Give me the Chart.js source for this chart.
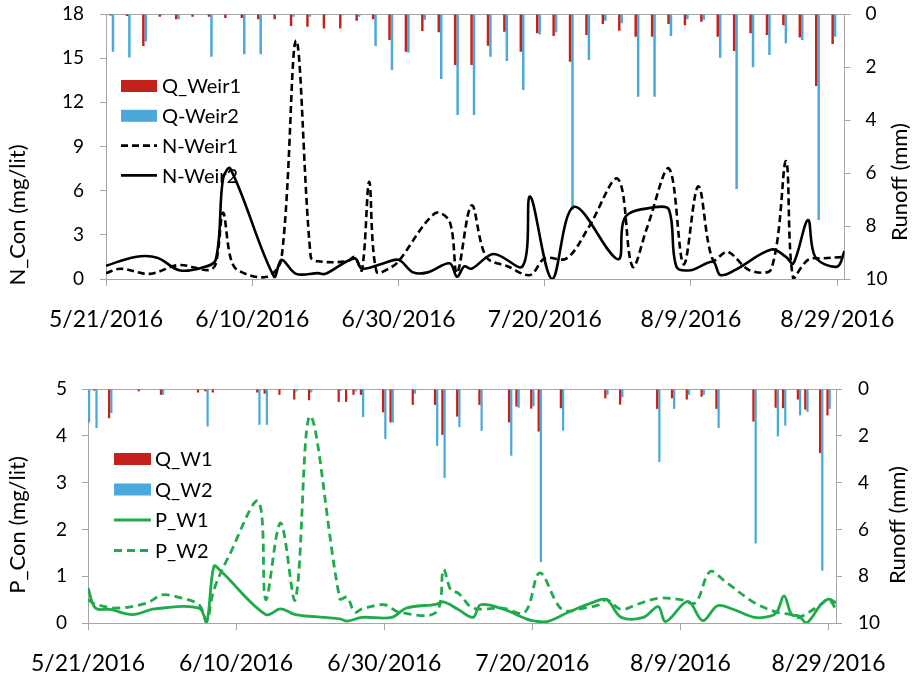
<!DOCTYPE html>
<html>
<head>
<meta charset="utf-8">
<script src="https://cdn.jsdelivr.net/npm/chart.js@4.4.1/dist/chart.umd.min.js"></script>
<style>
  html, body { margin: 0; padding: 0; background: #fff; }
  #wrap { position: relative; width: 915px; height: 683px; }
  canvas { position: absolute; left: 0; }
  #topChart { top: 0; }
  #botChart { top: 345px; }
</style>
</head>
<body>
<div id="wrap">
  <canvas id="topChart" width="915" height="345"></canvas>
  <canvas id="botChart" width="915" height="338"></canvas>
</div>
<script>
// ---------- data ----------
// x positions are days after 5/21/2016
const START = new Date(2016, 4, 21);
const X_END = 101;                         // 8/30/2016
const tickDays = [0, 20, 40, 60, 80, 100]; // 5/21 ... 8/29

// top panel: runoff events, one slot each (secondary category axis)
const qWeir1 = [0.06, 0.08, 1.21, 0.10, 0.20, 0.10, 0.10, 0.15, 0.15, 0.20, 0.20, 0.45, 0.48, 0.55, 0.55,
  0.25, 0.20, 0.98, 1.42, 0.64, 0.69, 1.92, 1.92, 1.20, 0.67, 1.42, 0.73, 0.83, 1.80, 0.79,
  0.38, 0.63, 0.86, 0.86, 0.38, 0.42, 0.29, 0.86, 1.40, 0.73, 0.79, 0.42, 0.89, 2.72, 1.13];
const qWeir2 = [1.42, 1.64, 1.04, 0.05, 0.20, 0.02, 1.61, 0.02, 1.52, 1.52, 0.02, 0.10, 0.10, 0.05, 0.05,
  0.10, 1.21, 2.11, 1.45, 0.22, 2.45, 3.81, 3.81, 1.61, 1.77, 2.87, 0.77, 0.69, 7.40, 1.74,
  0.25, 0.35, 3.12, 3.12, 0.83, 0.20, 0.22, 1.65, 6.60, 2.01, 1.55, 1.10, 0.98, 7.77, 0.86];
const qSlotsTop = qWeir1.map((_, i) => String(i + 1));

// N concentration (mg/lit)
const nW1Day = [0, 2, 6, 10, 14, 15, 16, 17, 18, 22, 24, 26, 28, 29, 33, 34, 35, 36, 37, 39,
  40, 45, 47, 48, 50, 52, 55, 58, 60, 63, 66, 70, 72, 74, 77, 79, 81, 83, 85, 88, 91, 93, 94, 96, 98, 101];
const nWeir1 = [0.4, 0.7, 0.35, 0.95, 0.6, 1.0, 4.5, 1.5, 0.6, 0.15, 1.4, 16.2, 1.5, 1.2, 1.2, 1.5, 0.6, 6.6, 0.5, 0.8,
  1.2, 4.46, 3.9, 0.4, 5.0, 1.5, 0.85, 0.27, 1.4, 1.4, 3.5, 6.8, 0.85, 3.5, 7.5, 1.0, 6.3, 1.3, 1.85, 0.6,
  0.7, 8.0, 0.0, 1.3, 1.4, 1.5];
const nW2Day = [0, 4, 7, 10, 13, 15, 16, 17, 23, 24, 26, 29, 30, 34, 35, 38, 40, 42, 44, 47,
  48, 49, 50, 53, 57, 58, 61, 64, 70, 71, 75, 77, 78, 80, 83, 84, 86, 91, 93, 94, 96, 97, 100, 101];
const nWeir2 = [0.9, 1.5, 1.45, 0.6, 0.75, 1.3, 6.8, 7.5, 0.15, 1.3, 0.35, 0.4, 0.35, 1.4, 0.7, 1.07, 1.3, 0.45, 0.45, 1.07,
  0.15, 0.85, 0.7, 1.7, 0.88, 5.6, 0.0, 4.9, 1.34, 4.2, 4.87, 4.7, 0.85, 0.6, 1.17, 0.27, 0.6, 2.0, 1.5, 1.05,
  4.0, 1.5, 0.84, 1.9];

// bottom panel: runoff events on their dates
const qDay = [0, 1, 3, 7, 10, 15, 16, 17, 23, 24, 26, 28, 30, 34, 35, 36, 37, 40, 41, 44, 47, 48,
  50, 53, 57, 58, 60, 61, 64, 70, 72, 77, 79, 81, 83, 85, 90, 93, 94, 96, 97, 99, 100];
const qW1 = [0.05, 0.07, 1.25, 0.10, 0.25, 0.15, 0.10, 0.15, 0.15, 0.20, 0.25, 0.45, 0.48, 0.55, 0.55, 0.25, 0.25, 1.00,
  1.43, 0.68, 0.68, 1.96, 1.18, 0.68, 1.43, 0.75, 0.84, 1.82, 0.82, 0.40, 0.67, 0.85, 0.40, 0.45, 0.33, 0.85,
  1.39, 0.80, 0.82, 0.45, 0.88, 2.74, 1.13];
const qW2 = [1.43, 1.67, 1.03, 0.02, 0.25, 0.02, 1.60, 0.02, 1.53, 1.53, 0.02, 0.10, 0.15, 0.08, 0.05, 0.10, 1.20, 2.14,
  1.43, 0.20, 2.43, 3.80, 1.63, 1.79, 2.85, 0.80, 0.74, 7.40, 1.78, 0.25, 0.35, 3.12, 0.85, 0.25, 0.25, 1.67,
  6.60, 2.03, 1.57, 1.13, 0.98, 7.77, 0.85];

// P concentration (mg/lit)
const pW1Day = [0, 1, 3, 6, 9, 15, 16, 17, 18, 24, 26, 28, 32, 34, 35, 37, 41, 43, 47, 48,
  50, 52, 53, 56, 59, 60, 62, 65, 68, 70, 72, 75, 77, 78, 81, 83, 85, 87, 90, 92, 93, 94, 95, 96, 97, 99, 100, 101];
const pW1 = [0.75, 0.32, 0.29, 0.18, 0.3, 0.32, 0.0, 1.21, 1.1, 0.18, 0.3, 0.18, 0.12, 0.09, 0.04, 0.12, 0.12, 0.32, 0.4, 0.45,
  0.29, 0.12, 0.39, 0.3, 0.1, 0.05, 0.03, 0.24, 0.43, 0.5, 0.12, 0.12, 0.35, 0.03, 0.46, 0.05, 0.37, 0.3, 0.12, 0.14,
  0.23, 0.58, 0.18, 0.15, 0.0, 0.4, 0.51, 0.43];
const pW2Day = [0, 1, 4, 8, 10, 12, 15, 16, 17, 19, 23, 24, 26, 28, 30, 34, 35, 36, 37, 40,
  42, 47, 48, 49, 50, 52, 56, 59, 61, 64, 67, 69, 70, 72, 74, 77, 80, 82, 84, 86, 90, 93, 95, 96, 99, 100, 101];
const pW2 = [0.5, 0.4, 0.32, 0.43, 0.6, 0.56, 0.39, 0.04, 0.71, 1.42, 2.6, 0.5, 2.14, 0.5, 4.42, 0.52, 0.55, 0.23, 0.3, 0.39,
  0.23, 0.23, 1.14, 0.7, 0.64, 0.32, 0.32, 0.23, 1.07, 0.29, 0.32, 0.39, 0.5, 0.29, 0.39, 0.53, 0.5, 0.43, 1.1, 0.89,
  0.43, 0.23, 0.18, 0.12, 0.4, 0.5, 0.3];

// ---------- style ----------
const FONT = "Lato, 'Open Sans', sans-serif";
const RED = "#c3221c";
const BLUE = "#4aa8db";
const GREEN = "#1fab4a";
const AXIS = "#a6a6a6";

Chart.defaults.font.family = FONT;
Chart.defaults.color = "#000";

// ---------- helpers ----------
const pairs = (xs, ys) => xs.map((x, i) => ({ x, y: ys[i] }));

function dateLabel(v) {
  const d = new Date(START.getFullYear(), START.getMonth(), START.getDate() + v);
  return (d.getMonth() + 1) + "/" + d.getDate() + "/" + d.getFullYear();
}

function dateAxis(height) {
  return {
    type: "linear", position: "bottom", min: 0, max: X_END, offset: false,
    afterBuildTicks: (s) => { s.ticks = tickDays.map((v) => ({ value: v })); },
    afterFit: (s) => { s.height = height; },
    grid: { offset: false, drawOnChartArea: false, tickLength: 7, color: AXIS },
    border: { color: AXIS },
    ticks: { autoSkip: false, maxRotation: 0, padding: 20, color: "#000",
      font: { size: 23 }, callback: dateLabel },
  };
}

// fixed width, and no label overhang padding (plot edges are set by the x axes)
function fixWidth(width) {
  return (s) => { s.width = width; s.paddingTop = 0; s.paddingBottom = 0; };
}

function conAxis(max, step, width, pad) {
  return {
    position: "left", min: 0, max,
    afterFit: fixWidth(width),
    grid: { drawOnChartArea: false, tickLength: 6, color: AXIS },
    border: { color: AXIS },
    ticks: { stepSize: step, padding: pad, color: "#000", font: { size: 19 } },
  };
}

function runoffAxis(width, pad) {
  return {
    position: "right", min: 0, max: 10, reverse: true,
    afterFit: fixWidth(width),
    grid: { drawOnChartArea: false, tickLength: 6, color: AXIS },
    border: { color: AXIS },
    ticks: { stepSize: 2, padding: pad, color: "#000", font: { size: 19 } },
  };
}

// legend drawn inside the plot, under the lines
const inlineLegend = {
  id: "inlineLegend",
  beforeDatasetsDraw(chart, args, o) {
    const ctx = chart.ctx;
    ctx.save();
    ctx.font = o.fontSize + "px " + FONT;
    ctx.textBaseline = "middle";
    chart.data.datasets.forEach((ds, i) => {
      const y = o.y + i * o.gap;
      if (ds.type === "line") {
        ctx.strokeStyle = ds.borderColor;
        ctx.lineWidth = ds.borderWidth;
        ctx.setLineDash(ds.borderDash || []);
        ctx.beginPath();
        ctx.moveTo(o.x, y);
        ctx.lineTo(o.x + o.swatch, y);
        ctx.stroke();
        ctx.setLineDash([]);
      } else {
        ctx.fillStyle = ds.backgroundColor;
        ctx.fillRect(o.x, y - o.boxH / 2, o.swatch, o.boxH);
      }
      ctx.fillStyle = "#000";
      ctx.fillText(ds.label, o.textX, y + 1);
    });
    ctx.restore();
  },
};

// vertical axis titles, both reading bottom-to-top
const sideTitles = {
  id: "sideTitles",
  afterDraw(chart, args, o) {
    const ctx = chart.ctx;
    ctx.save();
    ctx.font = o.fontSize + "px " + FONT;
    ctx.fillStyle = "#000";
    ctx.textAlign = "center";
    ctx.textBaseline = "middle";
    o.items.forEach((t) => {
      ctx.save();
      ctx.translate(t.x, t.y);
      ctx.rotate(-Math.PI / 2);
      ctx.fillText(t.text, 0, 0);
      ctx.restore();
    });
    ctx.restore();
  },
};

const lineBase = { type: "line", pointRadius: 0, tension: 0.35, order: 1, xAxisID: "x", yAxisID: "y" };

// ---------- top: N ----------
new Chart(document.getElementById("topChart"), {
  type: "bar",
  data: {
    datasets: [
      { type: "bar", label: "Q_Weir1", data: qWeir1, xAxisID: "xq", yAxisID: "y2",
        backgroundColor: RED, categoryPercentage: 0.6, barPercentage: 1, order: 2 },
      { type: "bar", label: "Q-Weir2", data: qWeir2, xAxisID: "xq", yAxisID: "y2",
        backgroundColor: BLUE, categoryPercentage: 0.6, barPercentage: 1, order: 2 },
      { ...lineBase, label: "N-Weir1", data: pairs(nW1Day, nWeir1),
        borderColor: "#000", borderWidth: 2.6, borderDash: [7, 4] },
      { ...lineBase, label: "N-Weir2", data: pairs(nW2Day, nWeir2),
        borderColor: "#000", borderWidth: 2.6 },
    ],
  },
  options: {
    responsive: false,
    animation: false,
    layout: { padding: 0 },
    scales: {
      x: dateAxis(66),
      xq: {
        type: "category", position: "top", labels: qSlotsTop, offset: true,
        afterFit: (s) => { s.height = 14; },
        grid: { display: false, drawTicks: false },
        border: { color: AXIS },
        ticks: { display: false },
      },
      y: conAxis(18, 3, 106, 16),
      y2: runoffAxis(70, 15),
    },
    plugins: {
      legend: { display: false },
      tooltip: { enabled: false },
      inlineLegend: { x: 121, swatch: 36, boxH: 12, textX: 162, y: 86, gap: 29.8, fontSize: 20 },
      sideTitles: { fontSize: 22, items: [
        { text: "N_Con (mg/lit)", x: 18, y: 215 },
        { text: "Runoff (mm)", x: 900, y: 182 },
      ] },
    },
  },
  plugins: [inlineLegend, sideTitles],
});

// ---------- bottom: P ----------
new Chart(document.getElementById("botChart"), {
  type: "bar",
  data: {
    datasets: [
      { type: "bar", label: "Q_W1", data: pairs(qDay, qW1), xAxisID: "x", yAxisID: "y2",
        backgroundColor: RED, categoryPercentage: 0.6, barPercentage: 1, order: 2 },
      { type: "bar", label: "Q_W2", data: pairs(qDay, qW2), xAxisID: "x", yAxisID: "y2",
        backgroundColor: BLUE, categoryPercentage: 0.6, barPercentage: 1, order: 2 },
      { ...lineBase, label: "P_W1", data: pairs(pW1Day, pW1),
        borderColor: GREEN, borderWidth: 2.8 },
      { ...lineBase, label: "P_W2", data: pairs(pW2Day, pW2),
        borderColor: GREEN, borderWidth: 2.8, borderDash: [8, 5] },
    ],
  },
  options: {
    responsive: false,
    animation: false,
    layout: { padding: 0 },
    scales: {
      x: dateAxis(60),
      xt: {
        type: "linear", position: "top", min: 0, max: X_END, offset: false,
        afterFit: (s) => { s.height = 44; },
        grid: { display: false, drawTicks: false, offset: false },
        border: { color: AXIS },
        ticks: { display: false },
      },
      y: conAxis(5, 1, 88, 15),
      y2: runoffAxis(79, 16),
    },
    plugins: {
      legend: { display: false },
      tooltip: { enabled: false },
      inlineLegend: { x: 114, swatch: 37, boxH: 12, textX: 155, y: 114, gap: 30.5, fontSize: 20 },
      sideTitles: { fontSize: 22, items: [
        { text: "P_Con (mg/lit)", x: 18, y: 180 },
        { text: "Runoff (mm)", x: 898, y: 180 },
      ] },
    },
  },
  plugins: [inlineLegend, sideTitles],
});
</script>
</body>
</html>
